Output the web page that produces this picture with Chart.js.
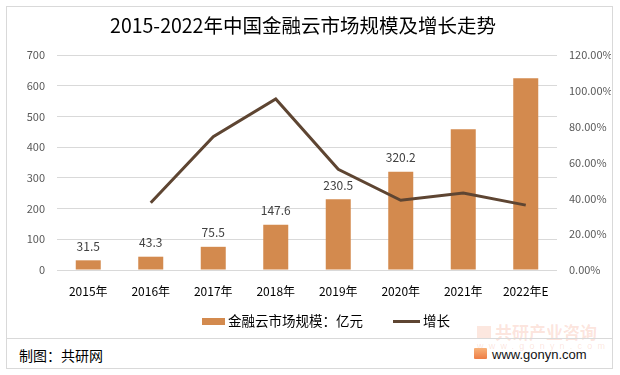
<!DOCTYPE html>
<html>
<head>
<meta charset="utf-8">
<script src="https://cdn.jsdelivr.net/npm/chart.js@4"></script>
<style>
  body { margin: 0; background: #fff; font-family: "Noto Sans CJK SC", sans-serif; overflow: hidden; }
  #wrap { position: relative; width: 620px; height: 375px; overflow: hidden; }
  #frame { position: absolute; left: 6px; top: 6px; width: 607px; height: 363px; border: 1px solid #d9d9d9; box-sizing: border-box; }
  #sep { position: absolute; left: 7px; top: 338px; width: 605px; height: 1px; background: #d9d9d9; }
  #chartBox { position: absolute; left: -5px; top: 7px; width: 616px; height: 332px; }
  .leg { position: absolute; top: 310px; height: 20px; line-height: 20px; font-size: 13.5px; color: #000; white-space: nowrap; }
  .leg i { display: inline-block; vertical-align: middle; margin-right: 3px; position: relative; top: -1px; }
  #src { position: absolute; left: 19px; top: 345px; font-size: 14px; line-height: 20px; color: #000; }
  #site { position: absolute; left: 492px; top: 345px; font-size: 13px; line-height: 20px; color: #111; font-family: "Liberation Sans", Arial, sans-serif; }
  #logo { position: absolute; left: 474px; top: 348px; width: 13px; height: 11px; background: linear-gradient(#f7b27a, #ee7d45); border-radius: 1px; }
  #wmLogo { position: absolute; left: 477px; top: 326px; width: 14px; height: 13px; background: rgba(240,120,80,0.18); }
  #wm1 { position: absolute; left: 495px; top: 321px; font-size: 17px; line-height: 22px; font-weight: bold; color: rgba(240,120,80,0.2); }
  #wm2 { position: absolute; left: 477px; top: 340px; font-size: 9px; line-height: 12px; color: rgba(240,120,80,0.2); letter-spacing: 5.2px; font-family: "Liberation Sans", Arial, sans-serif; }
</style>
</head>
<body>
<div id="wrap">
  <div id="frame"></div>
  <div id="wmLogo"></div>
  <div id="wm1">共研产业咨询</div>
  <div id="wm2">www.gonyn.com</div>
  <div id="chartBox"><canvas id="marketChart"></canvas></div>
  <div id="sep"></div>
  <div class="leg" style="left:202px"><i style="width:23px;height:7px;background:#d38a4e"></i>金融云市场规模：亿元</div>
  <div class="leg" style="left:393px"><i style="width:27px;height:3px;background:#5e4532"></i>增长</div>
  <div id="src">制图：共研网</div>
  <div id="logo"></div>
  <div id="site">www.gonyn.com</div>
</div>
<script>
const years = ['2015年', '2016年', '2017年', '2018年', '2019年', '2020年', '2021年', '2022年E'];
const marketSize = [31.5, 43.3, 75.5, 147.6, 230.5, 320.2, 458, 624]; // 亿元
const growth = [null, 37.5, 74.4, 95.5, 56.2, 38.9, 43.0, 36.2]; // %
const sizeLabels = ['31.5', '43.3', '75.5', '147.6', '230.5', '320.2', '', ''];

const barColor = '#d38a4e';
const lineColor = '#5e4532';

// value labels above the bars
const barLabels = {
    id: 'barLabels',
    afterDatasetsDraw(chart) {
        const ctx = chart.ctx;
        const meta = chart.getDatasetMeta(1);
        ctx.save();
        ctx.font = '12px "Noto Sans CJK SC", sans-serif';
        ctx.fillStyle = '#404040';
        ctx.textAlign = 'center';
        ctx.textBaseline = 'middle';
        meta.data.forEach((bar, i) => {
            if (sizeLabels[i]) ctx.fillText(sizeLabels[i], bar.x, bar.y - 14);
        });
        ctx.restore();
    }
};

const ctx = document.getElementById('marketChart').getContext('2d');
const marketChart = new Chart(ctx, {
    data: {
        labels: years,
        datasets: [{
            type: 'line',
            label: '增长',
            data: growth,
            yAxisID: 'y1',
            borderColor: lineColor,
            backgroundColor: lineColor,
            borderWidth: 3,
            pointRadius: 0,
            tension: 0,
            order: 0
        }, {
            type: 'bar',
            label: '金融云市场规模：亿元',
            data: marketSize,
            yAxisID: 'y',
            backgroundColor: barColor,
            categoryPercentage: 1,
            barPercentage: 0.4,
            order: 1
        }]
    },
    options: {
        responsive: true,
        maintainAspectRatio: false,
        animation: false,
        layout: { padding: { left: 0, right: 0, top: 0, bottom: 26.6 } },
        plugins: {
            title: {
                display: true,
                text: '2015-2022年中国金融云市场规模及增长走势',
                color: '#000',
                font: { size: 19.5, family: '"Noto Sans CJK SC"', weight: 'normal' },
                padding: { top: 7.3, bottom: 17.3 }
            },
            legend: { display: false },
            tooltip: { enabled: false }
        },
        scales: {
            x: {
                grid: { display: false, drawTicks: false },
                border: { display: false },
                ticks: { color: '#000', font: { size: 12, family: '"Noto Sans CJK SC"' }, padding: 14, maxRotation: 0 }
            },
            y: {
                position: 'left',
                min: 0,
                max: 700,
                afterFit: s => { s.width = 62; },
                ticks: { stepSize: 100, color: '#595959', font: { size: 11, family: '"Noto Sans CJK SC"' }, padding: 12 },
                grid: { color: '#d9d9d9', drawTicks: false },
                border: { display: false }
            },
            y1: {
                position: 'right',
                min: 0,
                max: 120,
                afterFit: s => { s.width = 54; },
                ticks: {
                    stepSize: 20,
                    color: '#595959',
                    font: { size: 11, family: '"Noto Sans CJK SC"' },
                    padding: 12,
                    callback: v => v.toFixed(2) + '%'
                },
                grid: { display: false, drawTicks: false },
                border: { display: false }
            }
        }
    },
    plugins: [barLabels]
});
</script>
</body>
</html>
